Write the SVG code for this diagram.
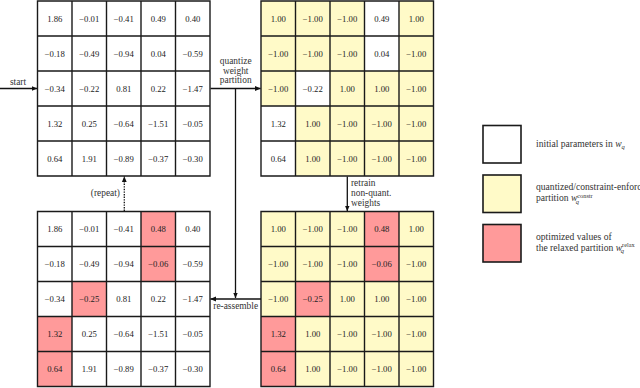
<svg xmlns="http://www.w3.org/2000/svg" width="640" height="388" viewBox="0 0 640 388">
<style>
.y{fill:#fffac8}
.r{fill:#ff9a9a}
.grid{fill:none;stroke:#1a1a1a;stroke-width:1.4}
text{font-family:"Liberation Serif","Times New Roman","DejaVu Serif",serif}
.n{font-size:8.7px;fill:#222;text-anchor:middle}
.lb{font-size:9.4px;fill:#333}
.lg{font-size:9.6px;fill:#333}
.ln{fill:none;stroke:#111;stroke-width:1.3}
.box{stroke:#1a1a1a;stroke-width:1.6}
</style>
<defs>
<marker id="ah" markerWidth="6" markerHeight="6" refX="5.5" refY="3" orient="auto" markerUnits="userSpaceOnUse">
<path d="M0,0.6 L5.8,3 L0,5.4 z" fill="#111"/>
</marker>
<path id="gridpath" d="M0,0 H172.5 V175 H0 Z M34.5,0 V175 M69,0 V175 M103.5,0 V175 M138,0 V175 M0,35 H172.5 M0,70 H172.5 M0,105 H172.5 M0,140 H172.5"/>
</defs>
<rect width="640" height="388" fill="#fff"/>

<g id="matrix-initial" transform="translate(37.5,1)">
<rect x="0" y="0" width="172.5" height="175" fill="#fff"/>
<g class="n">
<text class="n" x="17.25" y="20.5">1.86</text><text class="n" x="51.75" y="20.5">−0.01</text><text class="n" x="86.25" y="20.5">−0.41</text><text class="n" x="120.75" y="20.5">0.49</text><text class="n" x="155.25" y="20.5">0.40</text>
<text class="n" x="17.25" y="55.5">−0.18</text><text class="n" x="51.75" y="55.5">−0.49</text><text class="n" x="86.25" y="55.5">−0.94</text><text class="n" x="120.75" y="55.5">0.04</text><text class="n" x="155.25" y="55.5">−0.59</text>
<text class="n" x="17.25" y="90.5">−0.34</text><text class="n" x="51.75" y="90.5">−0.22</text><text class="n" x="86.25" y="90.5">0.81</text><text class="n" x="120.75" y="90.5">0.22</text><text class="n" x="155.25" y="90.5">−1.47</text>
<text class="n" x="17.25" y="125.5">1.32</text><text class="n" x="51.75" y="125.5">0.25</text><text class="n" x="86.25" y="125.5">−0.64</text><text class="n" x="120.75" y="125.5">−1.51</text><text class="n" x="155.25" y="125.5">−0.05</text>
<text class="n" x="17.25" y="160.5">0.64</text><text class="n" x="51.75" y="160.5">1.91</text><text class="n" x="86.25" y="160.5">−0.89</text><text class="n" x="120.75" y="160.5">−0.37</text><text class="n" x="155.25" y="160.5">−0.30</text>
</g>
<use href="#gridpath" class="grid"/>
</g>

<g id="matrix-quantized" transform="translate(261,1)">
<rect x="0" y="0" width="172.5" height="175" class="y"/>
<rect x="103.5" y="0" width="34.5" height="70" fill="#fff"/>
<rect x="34.5" y="70" width="34.5" height="35" fill="#fff"/>
<rect x="0" y="105" width="34.5" height="70" fill="#fff"/>
<g class="n">
<text class="n" x="17.25" y="20.5">1.00</text><text class="n" x="51.75" y="20.5">−1.00</text><text class="n" x="86.25" y="20.5">−1.00</text><text class="n" x="120.75" y="20.5">0.49</text><text class="n" x="155.25" y="20.5">1.00</text>
<text class="n" x="17.25" y="55.5">−1.00</text><text class="n" x="51.75" y="55.5">−1.00</text><text class="n" x="86.25" y="55.5">−1.00</text><text class="n" x="120.75" y="55.5">0.04</text><text class="n" x="155.25" y="55.5">−1.00</text>
<text class="n" x="17.25" y="90.5">−1.00</text><text class="n" x="51.75" y="90.5">−0.22</text><text class="n" x="86.25" y="90.5">1.00</text><text class="n" x="120.75" y="90.5">1.00</text><text class="n" x="155.25" y="90.5">−1.00</text>
<text class="n" x="17.25" y="125.5">1.32</text><text class="n" x="51.75" y="125.5">1.00</text><text class="n" x="86.25" y="125.5">−1.00</text><text class="n" x="120.75" y="125.5">−1.00</text><text class="n" x="155.25" y="125.5">−1.00</text>
<text class="n" x="17.25" y="160.5">0.64</text><text class="n" x="51.75" y="160.5">1.00</text><text class="n" x="86.25" y="160.5">−1.00</text><text class="n" x="120.75" y="160.5">−1.00</text><text class="n" x="155.25" y="160.5">−1.00</text>
</g>
<use href="#gridpath" class="grid"/>
</g>

<g id="matrix-reassembled" transform="translate(37.5,211.5)">
<rect x="0" y="0" width="172.5" height="175" fill="#fff"/>
<rect x="103.5" y="0" width="34.5" height="70" class="r"/>
<rect x="34.5" y="70" width="34.5" height="35" class="r"/>
<rect x="0" y="105" width="34.5" height="70" class="r"/>
<g class="n">
<text class="n" x="17.25" y="20.5">1.86</text><text class="n" x="51.75" y="20.5">−0.01</text><text class="n" x="86.25" y="20.5">−0.41</text><text class="n" x="120.75" y="20.5">0.48</text><text class="n" x="155.25" y="20.5">0.40</text>
<text class="n" x="17.25" y="55.5">−0.18</text><text class="n" x="51.75" y="55.5">−0.49</text><text class="n" x="86.25" y="55.5">−0.94</text><text class="n" x="120.75" y="55.5">−0.06</text><text class="n" x="155.25" y="55.5">−0.59</text>
<text class="n" x="17.25" y="90.5">−0.34</text><text class="n" x="51.75" y="90.5">−0.25</text><text class="n" x="86.25" y="90.5">0.81</text><text class="n" x="120.75" y="90.5">0.22</text><text class="n" x="155.25" y="90.5">−1.47</text>
<text class="n" x="17.25" y="125.5">1.32</text><text class="n" x="51.75" y="125.5">0.25</text><text class="n" x="86.25" y="125.5">−0.64</text><text class="n" x="120.75" y="125.5">−1.51</text><text class="n" x="155.25" y="125.5">−0.05</text>
<text class="n" x="17.25" y="160.5">0.64</text><text class="n" x="51.75" y="160.5">1.91</text><text class="n" x="86.25" y="160.5">−0.89</text><text class="n" x="120.75" y="160.5">−0.37</text><text class="n" x="155.25" y="160.5">−0.30</text>
</g>
<use href="#gridpath" class="grid"/>
</g>

<g id="matrix-retrained" transform="translate(261,211.5)">
<rect x="0" y="0" width="172.5" height="175" class="y"/>
<rect x="103.5" y="0" width="34.5" height="70" class="r"/>
<rect x="34.5" y="70" width="34.5" height="35" class="r"/>
<rect x="0" y="105" width="34.5" height="70" class="r"/>
<g class="n">
<text class="n" x="17.25" y="20.5">1.00</text><text class="n" x="51.75" y="20.5">−1.00</text><text class="n" x="86.25" y="20.5">−1.00</text><text class="n" x="120.75" y="20.5">0.48</text><text class="n" x="155.25" y="20.5">1.00</text>
<text class="n" x="17.25" y="55.5">−1.00</text><text class="n" x="51.75" y="55.5">−1.00</text><text class="n" x="86.25" y="55.5">−1.00</text><text class="n" x="120.75" y="55.5">−0.06</text><text class="n" x="155.25" y="55.5">−1.00</text>
<text class="n" x="17.25" y="90.5">−1.00</text><text class="n" x="51.75" y="90.5">−0.25</text><text class="n" x="86.25" y="90.5">1.00</text><text class="n" x="120.75" y="90.5">1.00</text><text class="n" x="155.25" y="90.5">−1.00</text>
<text class="n" x="17.25" y="125.5">1.32</text><text class="n" x="51.75" y="125.5">1.00</text><text class="n" x="86.25" y="125.5">−1.00</text><text class="n" x="120.75" y="125.5">−1.00</text><text class="n" x="155.25" y="125.5">−1.00</text>
<text class="n" x="17.25" y="160.5">0.64</text><text class="n" x="51.75" y="160.5">1.00</text><text class="n" x="86.25" y="160.5">−1.00</text><text class="n" x="120.75" y="160.5">−1.00</text><text class="n" x="155.25" y="160.5">−1.00</text>
</g>
<use href="#gridpath" class="grid"/>
</g>

<g id="connectors">
<line class="ln" x1="0" y1="88.5" x2="37" y2="88.5" marker-end="url(#ah)"/>
<line class="ln" x1="210.5" y1="88.5" x2="260.5" y2="88.5" marker-end="url(#ah)"/>
<line class="ln" x1="235.5" y1="88.5" x2="235.5" y2="298" marker-end="url(#ah)"/>
<line class="ln" x1="261" y1="299" x2="210.5" y2="299" marker-end="url(#ah)"/>
<line class="ln" x1="347.3" y1="176.5" x2="347.3" y2="211" marker-end="url(#ah)"/>
<line class="ln" x1="124.3" y1="211" x2="124.3" y2="176.5" stroke-dasharray="1.4 1.2" marker-end="url(#ah)"/>
<text class="lb" x="18" y="85" text-anchor="middle">start</text>
<text class="lb" x="235.7" y="63.5" text-anchor="middle">quantize</text>
<text class="lb" x="235.7" y="73.5" text-anchor="middle">weight</text>
<text class="lb" x="235.7" y="83.3" text-anchor="middle">partition</text>
<text class="lb" x="351" y="186">retrain</text>
<text class="lb" x="351" y="196.3">non-quant.</text>
<text class="lb" x="351" y="206">weights</text>
<text class="lb" x="120" y="196" text-anchor="end">(repeat)</text>
<text class="lb" x="235.7" y="308.5" text-anchor="middle">re-assemble</text>
</g>

<g id="legend-initial">
<rect class="box" x="483" y="125.5" width="38" height="37.5" fill="#fff"/>
<text class="lg" x="536" y="146.5">initial parameters in <tspan font-style="italic">w</tspan><tspan font-style="italic" font-size="6.5" dy="2">q</tspan></text>
</g>
<g id="legend-quantized">
<rect class="box y" x="483" y="175" width="38" height="37.5"/>
<text class="lg" x="536" y="190.3">quantized/constraint-enforced</text>
<text class="lg" x="536" y="201">partition <tspan font-style="italic">w</tspan><tspan font-size="6.3" dy="-3.3">constr</tspan><tspan font-style="italic" font-size="6.5" dx="-17" dy="5.8">q</tspan></text>
</g>
<g id="legend-relaxed">
<rect class="box r" x="483" y="224.5" width="38" height="37.5"/>
<text class="lg" x="536" y="240">optimized values of</text>
<text class="lg" x="536" y="250.5">the relaxed partition <tspan font-style="italic">w</tspan><tspan font-size="6.3" dy="-3.3">relax</tspan><tspan font-style="italic" font-size="6.5" dx="-14" dy="5.8">q</tspan></text>
</g>
</svg>
